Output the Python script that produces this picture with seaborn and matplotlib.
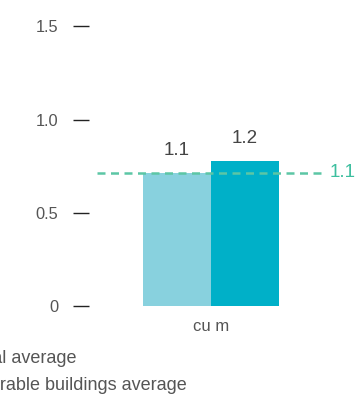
import matplotlib
matplotlib.use("Agg")
import matplotlib.pyplot as plt
import seaborn as sns
import numpy as np
import pandas as pd

# Data
categories = ["cu m", "cu m"]
series = ["National average", "Comparable buildings average"]
values = [1.1, 1.2]
average_value = 1.1
tick_labels = ["0", "0.5", "1.0", "1.5"]
tick_label_values = [0, 0.5, 1.0, 1.5]
axis_scale = 0.65  # tick labels = data * scale

sns.set_theme(style="white")
plt.rcParams['font.family'] = ['Liberation Sans', 'DejaVu Sans']

df = pd.DataFrame({"unit": categories, "series": series, "value": values})

fig = plt.figure(figsize=(3.58, 3.98), dpi=100)
ax = fig.add_axes([97/358, 1 - 306/398, 226/358, 286/398])

palette = {"National average": "#88d1de", "Comparable buildings average": "#00b0c8"}
sns.barplot(data=df, x="unit", y="value", hue="series", palette=palette,
            saturation=1, width=0.8, ax=ax, legend=False, linewidth=0)

ax.set_xlim(-0.67, 0.66)
ax.set_ylim(0, 2.36)

for c in ax.containers:
    for bar in c:
        h = bar.get_height()
        ax.annotate(f"{h:.1f}", (bar.get_x() + bar.get_width() / 2, h),
                    xytext=(0, 10), textcoords="offset points",
                    ha="center", va="bottom", fontsize=13.5, color="#444444")

ax.axhline(average_value, color="#5cc6a5", lw=1.8, dashes=(3.2, 2.2))
ax.annotate(f"{average_value:.1f}", (1, average_value), xycoords=("axes fraction", "data"),
            xytext=(5, 0), textcoords="offset points", ha="left", va="center",
            fontsize=13.5, color="#3dbf9f", annotation_clip=False)

yt = np.array(tick_label_values) / axis_scale
ax.set_yticks(yt)
ax.set_yticklabels(tick_labels)
for s in ax.spines.values():
    s.set_visible(False)
ax.spines['left'].set_position(('outward', 5.8))
ax.tick_params(axis="y", which="both", left=True, length=11.5, width=1.0,
               color="#222222", pad=10.6, labelsize=11.8, labelcolor="#555555")
ax.tick_params(axis="x", bottom=False, pad=3.6, labelsize=12, labelcolor="#555555")
ax.set_xlabel("")
ax.set_ylabel("")
ax.grid(False)

fig.text(77/358, 1 - 363/398, series[0], ha="right", va="baseline",
         fontsize=13, color="#555555")
fig.text(187/358, 1 - 390/398, series[1], ha="right", va="baseline",
         fontsize=13, color="#555555")

fig.savefig("out.png", dpi=100)
